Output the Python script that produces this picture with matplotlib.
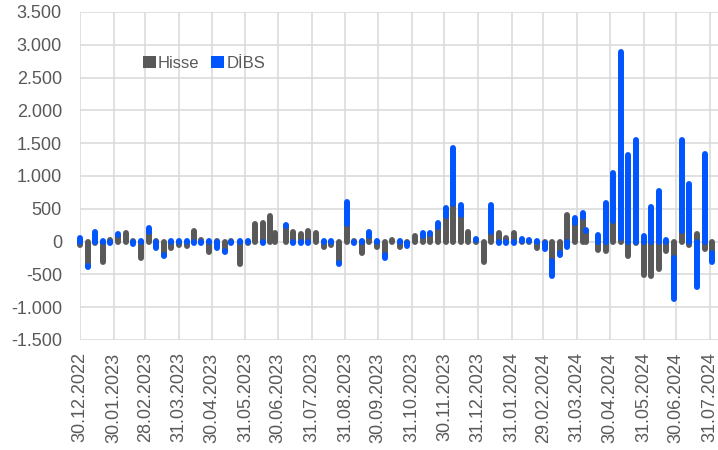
import matplotlib
matplotlib.use("Agg")
import matplotlib.pyplot as plt
import matplotlib.ticker as mticker
from matplotlib.patches import Patch
import numpy as np
import pandas as pd

# Weekly flows (Friday dates, holiday weeks use the last business day)
hisse = [-50, -370, -20, -316, 25, 100, 125, 10, -245, 150,
         15, -205, -105, -45, -65, 165, 25, -157, 10, -145,
         15, -345, -25, 265, 290, 385, 125, 240, 150, 110,
         165, 125, -75, -55, -330, 267, 10, -180, 90, -80,
         -205, 20, -80, -15, 80, 90, 115, 226, 395, 580,
         410, 140, 30, -305, 150, 125, 60, 125, 10, 5,
         -90, -20, -300, -180, 405, 290, 370, 165, -130, -140,
         318, 50, -215, -20, -510, -525, -420, -140, -256, 165,
         -50, 115, -115, -180]
dibs = [50, -20, 150, 10, -15, 10, 10, -40, 10, 50,
        -105, -10, 15, 15, 10, -15, -20, 10, -95, -10,
        -25, 10, 15, 10, -15, 10, 10, 20, -15, -15,
        -15, 10, 10, 10, -10, 340, -25, 15, 60, 15,
        -45, -10, 15, -45, 10, 35, 10, 60, 110, 840,
        145, 10, 10, -10, 405, -25, -25, -15, 35, 25,
        15, -90, -225, -30, -75, 70, 65, 10, 100, 590,
        730, 2840, 1315, 1545, 85, 530, 775, 25, -618, 1380,
        875, -686, 1340, -135]

tick_labels = ["30.12.2022", "30.01.2023", "28.02.2023", "31.03.2023",
               "30.04.2023", "31.05.2023", "30.06.2023", "31.07.2023",
               "31.08.2023", "30.09.2023", "31.10.2023", "30.11.2023",
               "31.12.2023", "31.01.2024", "29.02.2024", "31.03.2024",
               "30.04.2024", "31.05.2024", "30.06.2024", "31.07.2024"]

holidays = {"2023-04-21": "2023-04-20", "2023-05-19": "2023-05-18",
            "2023-06-30": "2023-06-27", "2024-04-12": "2024-04-08"}
dates = pd.date_range("2022-12-30", "2024-08-02", freq="W-FRI")
dates = pd.DatetimeIndex([pd.Timestamp(holidays.get(d.strftime("%Y-%m-%d"), d))
                          for d in dates])

GRAY = "#595959"
BLUE = "#0055FF"
TEXT = "#595959"

plt.rcParams["font.family"] = ["Liberation Sans", "DejaVu Sans"]

fig = plt.figure(figsize=(7.18, 4.5), dpi=100)
ax = fig.add_axes([80 / 718, 110 / 450, 638 / 718, 328 / 450])

h = np.array(hisse, dtype=float)
d = np.array(dibs, dtype=float)
# DİBS stacks on Hisse when both have the same sign
base = np.where(np.sign(h) == np.sign(d), h, 0)

ax.vlines(dates, 0, h, colors=GRAY, linewidths=4.3, capstyle="round",
          clip_on=False, zorder=3)
ax.vlines(dates, base, base + d, colors=BLUE, linewidths=4.3,
          capstyle="round", clip_on=False, zorder=4)

start = pd.Timestamp("2022-12-30")
ax.set_xlim(start, start + pd.Timedelta(days=586.4))
ax.set_ylim(-1500, 3500)

ax.set_yticks(range(-1500, 3501, 500))
ax.yaxis.set_major_formatter(
    mticker.FuncFormatter(lambda v, p: f"{v:,.0f}".replace(",", ".")))
tick_pos = pd.to_datetime(tick_labels, format="%d.%m.%Y")
ax.set_xticks(tick_pos)
ax.set_xticklabels(tick_labels, rotation=90)

ax.grid(True, color="#D9D9D9", linewidth=1.1, zorder=0)
ax.set_axisbelow(True)
for s in ax.spines.values():
    s.set_visible(False)
ax.tick_params(axis="both", length=0, labelsize=13, colors=TEXT)
ax.tick_params(axis="y", pad=13)
ax.tick_params(axis="x", pad=9)

handles = [Patch(facecolor=GRAY, label="Hisse"), Patch(facecolor=BLUE, label="DİBS")]
fig.legend(handles=handles, loc="center left",
           bbox_to_anchor=(143 / 718, 1 - 63 / 450), bbox_transform=fig.transFigure,
           ncol=2, frameon=False, fontsize=12, handlelength=0.75, handleheight=0.75,
           handletextpad=0.15, columnspacing=0.7, borderpad=0, borderaxespad=0,
           labelcolor=TEXT)

fig.savefig("out.png", dpi=100, facecolor="white")
